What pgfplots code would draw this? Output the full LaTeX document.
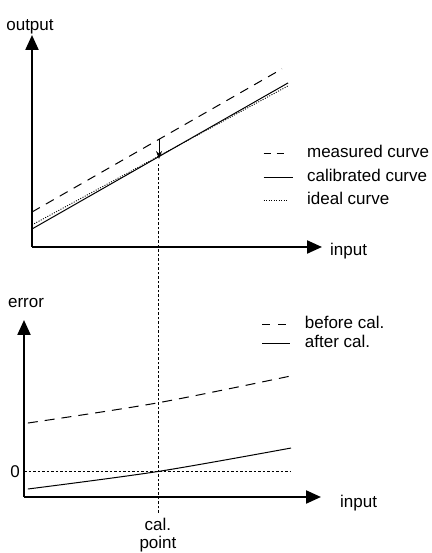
\documentclass[border=0pt]{standalone}
\usepackage{fontspec}
\setmainfont{Liberation Sans}
\usepackage{pgfplots}
\pgfplotsset{compat=1.18}
\usetikzlibrary{arrows.meta}
\pgfplotsset{
  myaxis/.style={
    scale only axis,
    axis lines=left,
    axis line style={line width=2.2pt, -{Triangle[length=15pt,width=13pt]}},
    xtick=\empty, ytick=\empty,
    xmin=0, xmax=10,
    clip=false,
    legend cell align=left,
  },
  mylegend/.style={
    legend style={draw=none, fill=none, inner sep=0pt, outer sep=0pt,
      column sep=14pt,
      nodes={inner sep=0pt, text height=12pt, text depth=4pt},
      font=\fontsize{17}{20}\selectfont},
  },
  legA/.style={legend image code/.code={\draw[##1, dash pattern=on 7pt off 6pt] (0pt,0pt) -- (20pt,0pt);}},
  legB/.style={legend image code/.code={\draw[##1] (0pt,0pt) -- (29pt,0pt);}},
  legC/.style={legend image code/.code={\draw[##1] (0pt,0pt) -- (25pt,0pt);}},
  legD/.style={legend image code/.code={\draw[##1, dash pattern=on 8pt off 8pt] (0pt,0pt) -- (24pt,0pt);}},
  legE/.style={legend image code/.code={\draw[##1] (0pt,0pt) -- (28pt,0pt);}},
}
\begin{document}
\begin{tikzpicture}[font=\fontsize{17}{20}\selectfont]
\useasboundingbox (0pt,0pt) rectangle (431pt,553pt);
% ---------------- top panel ----------------
\begin{axis}[myaxis, mylegend,
  at={(32pt,306pt)}, anchor=south west,
  width=290pt, height=212pt,
  ymin=0, ymax=10,
  xlabel={input},
  xlabel style={at={(axis description cs:1,0)}, anchor=west, inner sep=0pt, xshift=8pt, yshift=-4pt},
  ylabel={output},
  ylabel style={at={(axis description cs:0,1)}, rotate=-90, anchor=south, inner sep=0pt, xshift=-2pt, yshift=1pt},
  legend style={at={(0.797,0.478)}, anchor=north west, row sep=7.5pt},
]
\addplot[black, line width=1pt, dash pattern=on 9pt off 7pt, legA]
  coordinates {(0,1.65) (8.62,8.40)};
\addlegendentry{measured curve}
\addplot[black, line width=1pt, legB]
  coordinates {(0,0.85) (8.83,7.74)};
\addlegendentry{calibrated curve}
\addplot[black, line width=0.9pt, dash pattern=on 1pt off 1.5pt, legC]
  coordinates {(0,1.04) (8.83,7.60)};
\addlegendentry{ideal curve}
\addplot[black, line width=1pt, -{Stealth[length=8pt,width=6pt]}, forget plot]
  coordinates {(4.38,5.08) (4.38,4.15)};
\end{axis}
% ---------------- bottom panel ----------------
\begin{axis}[myaxis, mylegend,
  at={(24pt,56pt)}, anchor=south west,
  width=297pt, height=177pt,
  ymin=-1.5, ymax=8.91,
  ytick={0}, major tick length=0pt,
  /pgf/number format/assume math mode=true,
  yticklabel style={inner sep=0pt, xshift=-4pt, font=\fontsize{17}{20}\selectfont},
  xlabel={input},
  xlabel style={at={(axis description cs:1,0)}, anchor=west, inner sep=0pt, xshift=19pt, yshift=-6pt},
  ylabel={error},
  ylabel style={at={(axis description cs:0,1)}, rotate=-90, anchor=south, inner sep=0pt, xshift=2pt, yshift=12pt},
  legend style={at={(0.801,1.02)}, anchor=north west, row sep=3pt},
]
\addplot[black, line width=1pt, dash pattern=on 10pt off 7pt, smooth, legD]
  coordinates {(0.13,2.85) (4.48,4.03) (8.99,5.62)};
\addlegendentry{before cal.}
\addplot[black, line width=1pt, smooth, legE]
  coordinates {(0.13,-1.03) (4.51,0) (8.99,1.38)};
\addlegendentry{after cal.}
\addplot[black, line width=0.8pt, dash pattern=on 2.5pt off 2pt, forget plot]
  coordinates {(0,0) (9.0,0)};
\addplot[black, line width=0.8pt, dash pattern=on 2.5pt off 2pt, forget plot]
  coordinates {(4.51,-2.44) (4.51,18.2)};
\node[anchor=north, align=center, inner sep=0pt, font=\fontsize{17}{18}\selectfont]
  at (axis cs:4.51,-2.74) {cal.\\point};
\end{axis}
\end{tikzpicture}
\end{document}
